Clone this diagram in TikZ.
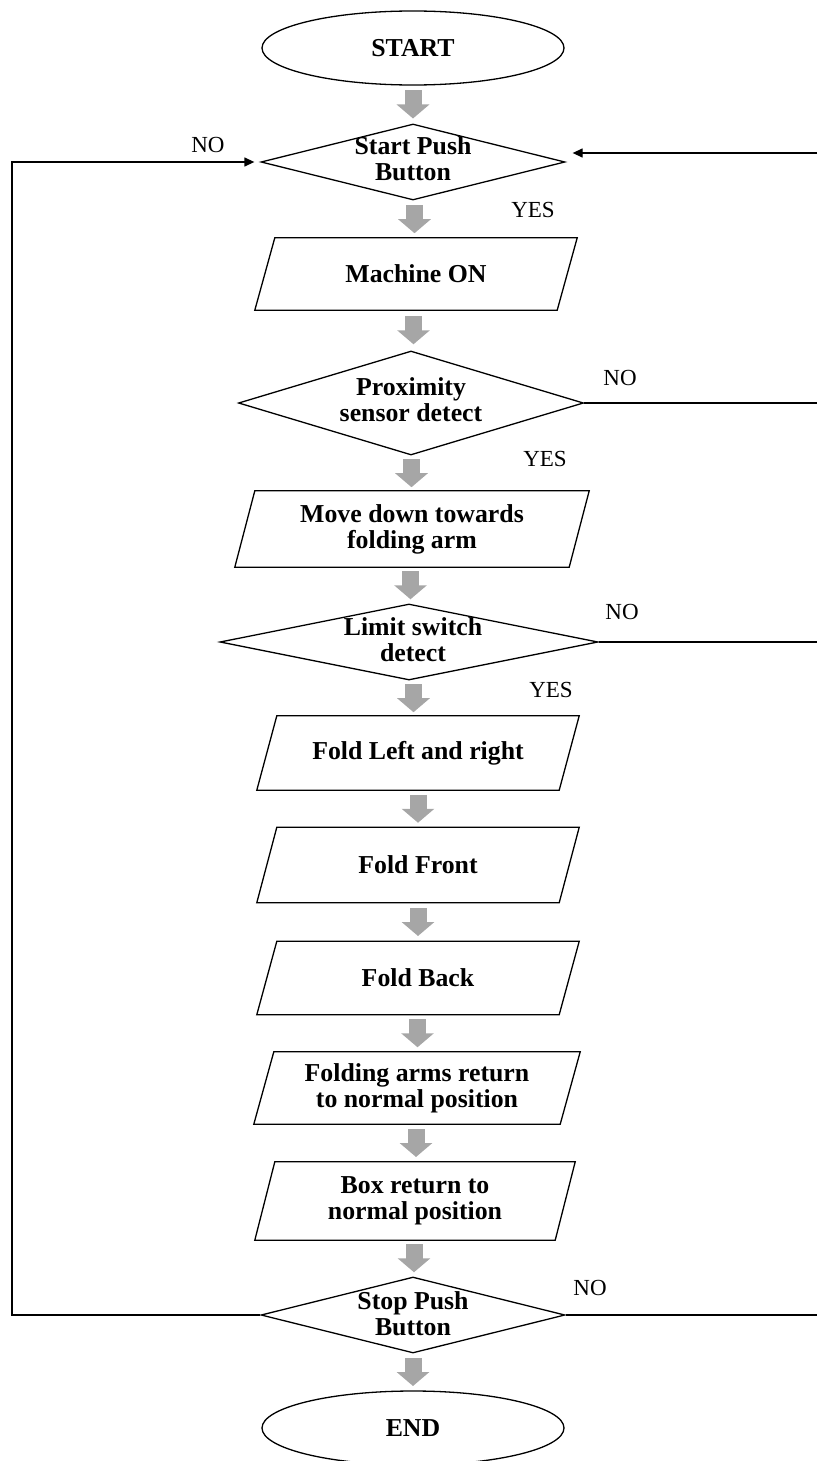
\documentclass[tikz,border=0pt]{standalone}
\usepackage{fontspec}
\setmainfont{Liberation Serif}
\usetikzlibrary{shapes.geometric,arrows.meta,calc}
\definecolor{garr}{RGB}{166,166,166}
\tikzset{
  base/.style={draw, line width=1.3pt, align=center, font=\bfseries\fontsize{25.8}{26}\selectfont, inner sep=0pt},
  term/.style={base, ellipse, minimum width=302pt, minimum height=74pt},
  dec/.style={draw, line width=1.3pt, diamond, inner sep=0pt},
  dtext/.style={align=center, font=\bfseries\fontsize{25.8}{26}\selectfont, inner sep=0pt},
  io/.style={align=center, font=\bfseries\fontsize{25.8}{26}\selectfont, inner sep=0pt, rectangle},
  yn/.style={font=\fontsize{23}{24}\selectfont, inner sep=0pt},
  garrow/.style={draw=garr, line width=17pt, -{Triangle[width=32pt,length=14pt,fill=garr]}},
  blk/.style={line width=1.3pt},
  arr/.style={line width=1.3pt, -{Triangle[width=9pt,length=10pt]}},
}
\newcommand{\garrowto}[2]{\draw[garrow] ($(#1.south)!.5!(#2.north)+(0,-14)$) -- ($(#1.south)!.5!(#2.north)+(0,14)$);}
\newcommand{\paraframe}[1]{\draw[blk, line join=miter] ($(#1.south west)+(-10,0)$) -- ($(#1.north west)+(10,0)$) -- ($(#1.north east)+(10,0)$) -- ($(#1.south east)+(-10,0)$) -- cycle;}
\begin{document}
\begin{tikzpicture}[x=1pt,y=-1pt]
\useasboundingbox (0,0) rectangle (817,1461);
\clip (0,0) rectangle (817,1461);
\node[term] (start) at (413,48) {START};
\node[dec, minimum width=304pt, minimum height=76pt] (d1) at (413,162) {};
\node[dtext] (d1t) at (413,159) {Start Push\\Button};
\node[io, minimum width=302pt, minimum height=72pt] (p1) at (416,274) {Machine ON};
\node[dec, minimum width=345pt, minimum height=104pt] (d2) at (411,403) {};
\node[dtext] (d2t) at (411,400) {Proximity\\sensor detect};
\node[io, minimum width=334pt, minimum height=76pt] (p2) at (412,529) {Move down towards\\folding arm};
\node[dec, minimum width=378pt, minimum height=76pt] (d3) at (409,642) {};
\node[dtext] (d3t) at (413,640) {Limit switch\\detect};
\node[io, minimum width=302pt, minimum height=74pt] (p3) at (418,753) {Fold Left and right};
\node[io, minimum width=302pt, minimum height=75pt] (p4) at (418,865) {Fold Front};
\node[io, minimum width=302pt, minimum height=73pt] (p5) at (418,978) {Fold Back};
\node[io, minimum width=306pt, minimum height=72pt] (p6) at (417,1088) {Folding arms return\\to normal position};
\node[io, minimum width=300pt, minimum height=78pt] (p7) at (415,1201) {Box return to\\normal position};
\node[dec, minimum width=304pt, minimum height=76pt] (d4) at (413,1315) {};
\node[dtext] (d4t) at (413,1314) {Stop Push\\Button};
\node[term] (end) at (413,1428) {END};

\paraframe{p1}
\paraframe{p2}
\paraframe{p3}
\paraframe{p4}
\paraframe{p5}
\paraframe{p6}
\paraframe{p7}

\garrowto{start}{d1}
\garrowto{d1}{p1}
\garrowto{p1}{d2}
\garrowto{d2}{p2}
\garrowto{p2}{d3}
\garrowto{d3}{p3}
\garrowto{p3}{p4}
\garrowto{p4}{p5}
\garrowto{p5}{p6}
\garrowto{p6}{p7}
\garrowto{p7}{d4}
\garrowto{d4}{end}

\coordinate (lft) at (12,0);
\coordinate (rgt) at (817,0);
\coordinate (rin) at (817,153);
\draw[arr, shorten >=6pt] (d4.west) -- (d4.west -| lft) |- (d1.west);
\draw[blk] (d4.east) -- (d4.east -| rgt);
\draw[blk] (d2.east) -- (d2.east -| rgt);
\draw[blk] (d3.east) -- (d3.east -| rgt);
\draw[arr, shorten >=7pt] (rin) -- (d1.east |- rin);

\node[yn] (no1) at (208,145) {NO};
\node[yn] (yes1) at (533,210) {YES};
\node[yn] (no2) at (620,378) {NO};
\node[yn] (yes2) at (545,459) {YES};
\node[yn] (no3) at (622,612) {NO};
\node[yn] (yes3) at (551,690) {YES};
\node[yn] (no4) at (590,1288) {NO};
\end{tikzpicture}
\end{document}
